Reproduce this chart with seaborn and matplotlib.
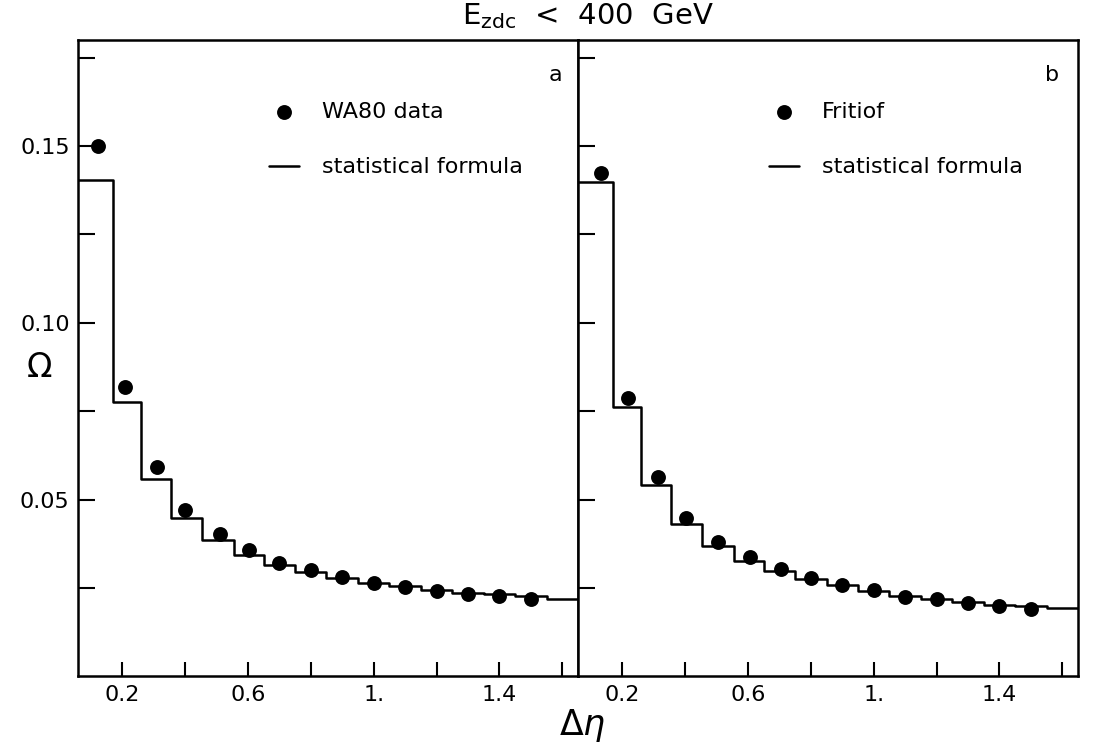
import matplotlib
matplotlib.use("Agg")
import matplotlib.pyplot as plt
import seaborn as sns
import pandas as pd

# Measured points (pseudorapidity window width vs. Omega)
eta_a = [0.125, 0.21, 0.31, 0.40, 0.51, 0.605, 0.70, 0.80, 0.90, 1.00, 1.10, 1.20, 1.30, 1.40, 1.50]
omega_a = [0.150, 0.082, 0.0593, 0.0472, 0.0403, 0.0357, 0.0322, 0.0300, 0.0282,
           0.0264, 0.0253, 0.0241, 0.0232, 0.0227, 0.0218]

eta_b = [0.132, 0.22, 0.313, 0.404, 0.505, 0.607, 0.706, 0.80, 0.90, 1.00, 1.10, 1.20, 1.30, 1.40, 1.50]
omega_b = [0.1425, 0.0787, 0.0565, 0.0449, 0.0380, 0.0338, 0.0303, 0.0278, 0.0258,
           0.0244, 0.0225, 0.0218, 0.0208, 0.0200, 0.0192]

# Statistical formula, evaluated per bin
bin_edges = [0.06, 0.17, 0.26, 0.355, 0.455, 0.555, 0.65, 0.75, 0.85, 0.95,
             1.05, 1.15, 1.25, 1.35, 1.45, 1.55, 1.65]
formula_a = [0.1404, 0.0775, 0.0559, 0.0449, 0.0385, 0.0345, 0.0316, 0.0295,
             0.0279, 0.0265, 0.0255, 0.0244, 0.0236, 0.0233, 0.0227, 0.0220]
formula_b = [0.1399, 0.0762, 0.0542, 0.0432, 0.0369, 0.0328, 0.0298, 0.0276,
             0.0259, 0.0241, 0.0228, 0.0218, 0.0210, 0.0203, 0.0200, 0.0195]

panel_tags = ["a", "b"]
point_labels = ["WA80 data", "Fritiof"]
line_label = "statistical formula"

x_ticks = [0.2, 0.4, 0.6, 0.8, 1.0, 1.2, 1.4, 1.6]
x_tick_labels = ["0.2", "", "0.6", "", "1.", "", "1.4", ""]
y_ticks = [0.025, 0.05, 0.075, 0.10, 0.125, 0.15, 0.175]
y_tick_labels = ["", "0.05", "", "0.10", "", "0.15", ""]

sns.set_style("ticks")
plt.rcParams["font.family"] = ["DejaVu Sans"]
plt.rcParams["mathtext.fontset"] = "dejavusans"
for key in ("text.color", "axes.labelcolor", "xtick.color", "ytick.color"):
    plt.rcParams[key] = "black"

fig, axes = plt.subplots(1, 2, figsize=(10.99, 7.49), dpi=100)
fig.subplots_adjust(left=0.071, right=0.981, top=0.9466, bottom=0.0968, wspace=0)

series = [(eta_a, omega_a, formula_a), (eta_b, omega_b, formula_b)]

for i, (ax, (ex, om, fo)) in enumerate(zip(axes, series)):
    steps = pd.DataFrame({"x": bin_edges, "y": list(fo) + [fo[-1]]})
    sns.lineplot(data=steps, x="x", y="y", ax=ax, color="black", lw=1.8,
                 drawstyle="steps-post", estimator=None, sort=False)
    line = ax.lines[-1]
    pts = pd.DataFrame({"x": ex, "y": om})
    sns.scatterplot(data=pts, x="x", y="y", ax=ax, color="black", s=115,
                    edgecolor="black", linewidth=0, zorder=3)
    dots = ax.collections[-1]

    ax.set_xlim(bin_edges[0], bin_edges[-1])
    ax.set_ylim(0, 0.18)
    ax.set_xticks(x_ticks)
    ax.set_xticklabels(x_tick_labels)
    ax.set_yticks(y_ticks)
    if i == 0:
        ax.set_yticklabels(y_tick_labels)
    else:
        ax.set_yticklabels([""] * len(y_ticks))
    ax.tick_params(direction="in", length=10, width=1.5, labelsize=16,
                   top=False, right=False, pad=6)
    ax.tick_params(axis="y", length=12)
    for sp in ax.spines.values():
        sp.set_visible(True)
        sp.set_linewidth(1.8)
        sp.set_color("black")
    ax.set_xlabel("")
    ax.set_ylabel("")

    ax.legend([dots, line], [point_labels[i], line_label], loc="upper left",
              bbox_to_anchor=(0.381, 0.903), frameon=False, fontsize=16,
              handlelength=1.35, handletextpad=1.05, labelspacing=1.6,
              borderpad=0, borderaxespad=0, markerscale=1.0)
    ax.text(0.955 if i == 0 else 0.948, 0.945, panel_tags[i], transform=ax.transAxes,
            ha="center", va="center", fontsize=16)

fig.text(0.535, 0.978, r"E$_{\mathrm{zdc}}$  <  400  GeV", ha="center", va="center",
         fontsize=21)
fig.text(0.036, 0.51, "Ω", ha="center", va="center", fontsize=24)
fig.text(0.530, 0.032, r"$\Delta\eta$", ha="center", va="center", fontsize=25)

fig.savefig("out.png", dpi=100)
